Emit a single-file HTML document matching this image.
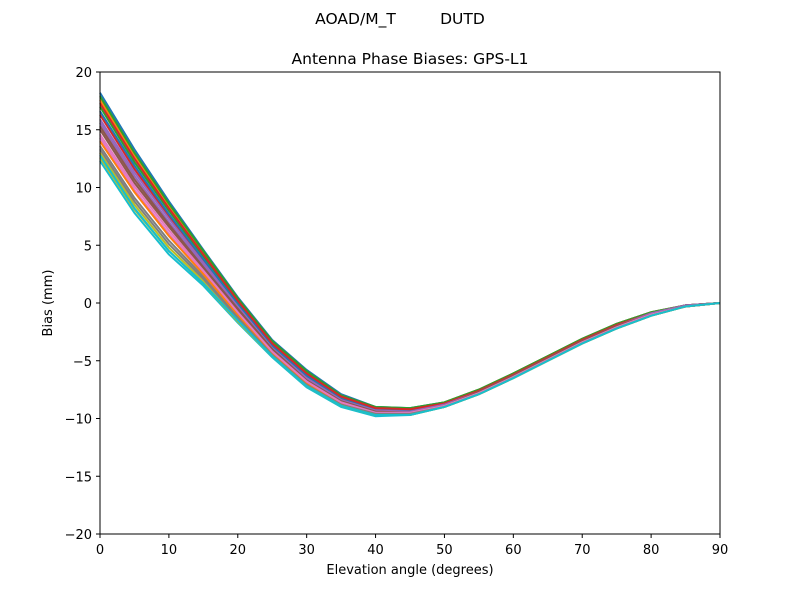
<!DOCTYPE html>
<html><head><meta charset="utf-8"><style>
body{margin:0;background:#fff;}
svg{display:block;font-family:"DejaVu Sans","Liberation Sans",sans-serif;}
</style></head><body>
<svg id="chart" width="800" height="600">
<rect width="800" height="600" fill="#fff"/>
<text x="400" y="24" font-size="15.5" text-anchor="middle" xml:space="preserve">AOAD/M_T         DUTD</text>
<text x="410" y="64" font-size="15.5" text-anchor="middle">Antenna Phase Biases: GPS-L1</text>
<g id="lines"></g>
<rect x="100" y="72" width="620" height="462" fill="none" stroke="#000" stroke-width="1"/>
<g id="xt"></g>
<g id="yt"></g>
<text x="410" y="574" font-size="13" text-anchor="middle">Elevation angle (degrees)</text>
<text transform="translate(52,303) rotate(-90)" font-size="13" text-anchor="middle">Bias (mm)</text>
</svg>
<script>
const elevations=[0,5,10,15,20,25,30,35,40,45,50,55,60,65,70,75,80,85,90];
const xTicks=[0,10,20,30,40,50,60,70,80,90];
const yTicks=[-20,-15,-10,-5,0,5,10,15,20];
const colors=["#1f77b4","#ff7f0e","#2ca02c","#d62728","#9467bd","#8c564b","#e377c2","#7f7f7f","#bcbd22","#17becf"];
const s1=[18.2,13.3,8.8,4.6,0.5,-3.2,-5.8,-7.9,-9.0,-9.1,-8.6,-7.5,-6.1,-4.6,-3.1,-1.8,-0.8,-0.2,0];
const s2=[17.6,12.8,8.4,4.3,0.3,-3.4,-6.0,-8.0,-9.1,-9.2,-8.6,-7.5,-6.1,-4.6,-3.1,-1.8,-0.8,-0.2,0];
const s3=[17.0,12.2,8.0,4.0,0.1,-3.6,-6.2,-8.2,-9.2,-9.3,-8.7,-7.6,-6.2,-4.7,-3.2,-1.9,-0.9,-0.2,0];
const s4=[16.3,11.6,7.5,3.6,-0.2,-3.8,-6.4,-8.3,-9.3,-9.4,-8.8,-7.6,-6.2,-4.7,-3.2,-1.9,-0.9,-0.2,0];
const s5=[15.6,11.0,7.0,3.3,-0.4,-4.0,-6.6,-8.5,-9.4,-9.4,-8.8,-7.7,-6.3,-4.8,-3.3,-2.0,-0.9,-0.2,0];
const s6=[15.0,10.4,6.6,3.0,-0.7,-4.1,-6.8,-8.6,-9.5,-9.5,-8.9,-7.7,-6.3,-4.8,-3.3,-2.0,-1.0,-0.3,0];
const s7=[14.3,9.8,6.0,2.6,-0.9,-4.2,-6.9,-8.7,-9.6,-9.5,-8.9,-7.8,-6.4,-4.9,-3.4,-2.1,-1.0,-0.3,0];
const s8=[13.6,9.1,5.4,2.3,-1.2,-4.4,-7.0,-8.8,-9.6,-9.6,-9.0,-7.8,-6.4,-4.9,-3.4,-2.1,-1.0,-0.3,0];
const s9=[13.0,8.5,4.8,1.9,-1.4,-4.5,-7.2,-8.9,-9.7,-9.6,-9.0,-7.9,-6.5,-5.0,-3.5,-2.2,-1.1,-0.3,0];
const s10=[12.3,7.8,4.2,1.5,-1.7,-4.7,-7.3,-9.0,-9.8,-9.7,-9.0,-7.9,-6.5,-5.0,-3.5,-2.2,-1.1,-0.3,0];
const s11=[16.6,11.9,7.7,3.8,-0.1,-3.7,-6.3,-8.2,-9.2,-9.3,-8.7,-7.6,-6.2,-4.7,-3.2,-1.9,-0.9,-0.2,0];
const s12=[14.0,9.6,5.8,2.5,-1.0,-4.3,-6.9,-8.7,-9.5,-9.5,-8.9,-7.8,-6.4,-4.9,-3.4,-2.1,-1.0,-0.3,0];
const s13=[17.9,13.0,8.6,4.5,0.4,-3.3,-5.9,-8.0,-9.0,-9.1,-8.6,-7.5,-6.1,-4.6,-3.1,-1.8,-0.8,-0.2,0];
const s14=[17.3,12.5,8.2,4.2,0.2,-3.5,-6.1,-8.1,-9.1,-9.2,-8.7,-7.6,-6.2,-4.7,-3.2,-1.9,-0.9,-0.2,0];
const s15=[15.9,11.3,7.3,3.5,-0.3,-3.9,-6.5,-8.4,-9.3,-9.4,-8.8,-7.7,-6.3,-4.8,-3.3,-2.0,-0.9,-0.2,0];
const s16=[15.3,10.7,6.8,3.1,-0.5,-4.0,-6.7,-8.5,-9.4,-9.5,-8.9,-7.7,-6.3,-4.8,-3.3,-2.0,-1.0,-0.3,0];
const s17=[14.6,10.1,6.3,2.8,-0.8,-4.2,-6.8,-8.6,-9.5,-9.5,-8.9,-7.8,-6.4,-4.9,-3.4,-2.1,-1.0,-0.3,0];
const s18=[13.3,8.8,5.1,2.1,-1.3,-4.5,-7.1,-8.8,-9.6,-9.6,-9.0,-7.9,-6.5,-5.0,-3.5,-2.2,-1.1,-0.3,0];
const s19=[12.6,8.1,4.5,1.7,-1.6,-4.6,-7.2,-8.9,-9.7,-9.7,-9.0,-7.9,-6.5,-5.0,-3.5,-2.2,-1.1,-0.3,0];
const s20=[12.8,8.2,4.5,1.7,-1.5,-4.6,-7.2,-8.9,-9.7,-9.7,-9.0,-7.9,-6.5,-5.0,-3.5,-2.2,-1.1,-0.3,0];
const series=[s1,s2,s3,s4,s5,s6,s7,s8,s9,s10,s11,s12,s13,s14,s15,s16,s17,s18,s19,s20];
const X=v=>100+v/90*620, Y=v=>303-v*462/40;
const NS="http://www.w3.org/2000/svg";
const g=document.getElementById('lines');
series.forEach((s,i)=>{
  const p=document.createElementNS(NS,'polyline');
  p.setAttribute('points',s.map((v,j)=>X(elevations[j])+','+Y(v)).join(' '));
  p.setAttribute('fill','none');p.setAttribute('stroke',colors[i%10]);p.setAttribute('stroke-width','2');
  
  
  g.appendChild(p);
});
const xt=document.getElementById('xt');
xTicks.forEach(t=>{
  const l=document.createElementNS(NS,'line');
  l.setAttribute('x1',X(t));l.setAttribute('x2',X(t));l.setAttribute('y1',534);l.setAttribute('y2',538);l.setAttribute('stroke','#000');
  
  
  xt.appendChild(l);
  const tx=document.createElementNS(NS,'text');
  tx.setAttribute('x',X(t));tx.setAttribute('y',554);tx.setAttribute('font-size','13');tx.setAttribute('text-anchor','middle');
  tx.textContent=t;
  
  
  xt.appendChild(tx);
});
const yt=document.getElementById('yt');
yTicks.forEach(t=>{
  const l=document.createElementNS(NS,'line');
  l.setAttribute('x1',96);l.setAttribute('x2',100);l.setAttribute('y1',Y(t));l.setAttribute('y2',Y(t));l.setAttribute('stroke','#000');
  
  
  yt.appendChild(l);
  const tx=document.createElementNS(NS,'text');
  tx.setAttribute('x',92);tx.setAttribute('y',Y(t)+5);tx.setAttribute('font-size','13');tx.setAttribute('text-anchor','end');
  tx.textContent=t<0?'\u2212'+(-t):t;
  
  
  yt.appendChild(tx);
});
</script>
</body></html>
